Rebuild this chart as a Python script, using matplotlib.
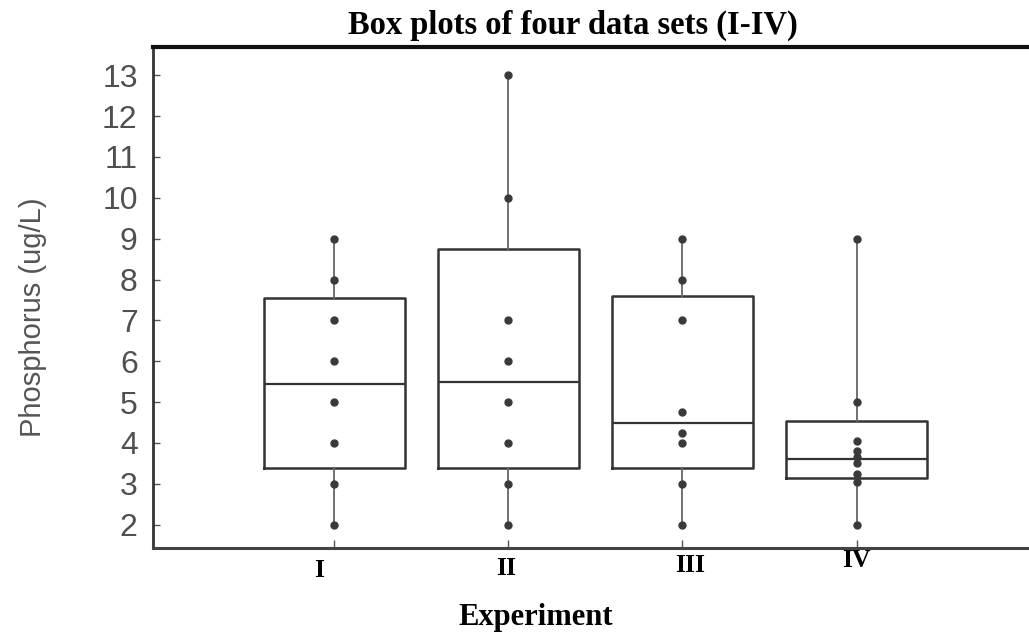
import numpy as np
from matplotlib import pyplot as plt
from matplotlib import transforms

# data
groups = ['I', 'II', 'III', 'IV']
pts_I = [2, 3, 4, 5, 6, 7, 8, 9]
pts_II = [2, 3, 4, 5, 6, 7, 10, 13]
pts_III = [2, 3, 4.0, 4.25, 4.75, 7, 8, 9]
pts_IV = [2, 3.05, 3.25, 3.5, 3.65, 3.8, 4.05, 5, 9]
q1 = [3.4, 3.4, 3.4, 3.15]
med = [5.45, 5.5, 4.5, 3.6]
q3 = [7.55, 8.75, 7.6, 4.55]

points = [pts_I, pts_II, pts_III, pts_IV]
pos = np.arange(1, len(groups) + 1)

stats = []
for i, p in enumerate(points):
    stats.append({'q1': q1[i], 'med': med[i], 'q3': q3[i],
                  'whislo': min(p), 'whishi': max(p), 'fliers': []})

fig = plt.figure(figsize=(10.29, 6.34), dpi=100)
ax = fig.add_axes([0.1487, 0.1356, 0.8513, 0.7903])

ax.bxp(stats, positions=pos, widths=0.81, showcaps=False, showfliers=False,
       boxprops=dict(color='#333333', lw=1.8),
       whiskerprops=dict(color='#666666', lw=1.3),
       medianprops=dict(color='#333333', lw=1.6))

for x, p in zip(pos, points):
    ax.plot([x] * len(p), p, 'o', ms=5, color='#3a3a3a', zorder=3)

ax.set_xlim(-0.04, 4.99)
ax.set_ylim(1.43, 13.69)
ax.set_yticks(range(2, 14))
ax.set_xticks(pos)
ax.set_xticklabels(groups, family='Liberation Serif', fontweight='bold', fontsize=18.5)
for lab in ax.get_yticklabels():
    lab.set_family('Liberation Sans')
    lab.set_fontsize(23)
    lab.set_color('#505050')

ax.tick_params(axis='y', direction='in', length=5, width=1, color='#555555', pad=11)
ax.tick_params(axis='x', direction='in', length=6, width=1, color='#555555', pad=6)

# hand placed labels in the scan
shift = [(-15, -3), (-2, -1), (8, 2), (0, 7)]
for lab, (dx, dy) in zip(ax.get_xticklabels(), shift):
    lab.set_transform(lab.get_transform() + transforms.ScaledTranslation(dx / 100, dy / 100, fig.dpi_scale_trans))

ax.spines['right'].set_visible(False)
ax.spines['top'].set_linewidth(3)
ax.spines['top'].set_color('#111111')
ax.spines['left'].set_linewidth(2)
ax.spines['left'].set_color('#333333')
ax.spines['bottom'].set_linewidth(2.2)
ax.spines['bottom'].set_color('#444444')

fig.text(0.557, 0.9606, 'Box plots of four data sets (I-IV)', ha='center', va='center',
         family='Liberation Serif', fontweight='bold', fontsize=23.5)
fig.text(33 / 1029, 1 - 317 / 634, 'Phosphorus (ug/L)', rotation=90, ha='center', va='center',
         family='Liberation Sans', fontsize=21, color='#555555')
fig.text(536 / 1029, 1 - 625 / 634, 'Experiment', ha='center', va='baseline',
         family='Liberation Serif', fontweight='bold', fontsize=22)

fig.savefig('out.png', dpi=100)
